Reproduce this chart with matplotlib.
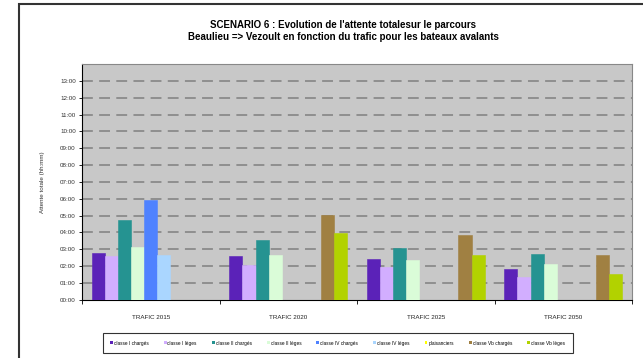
import numpy as np
import matplotlib
matplotlib.use("Agg")
import matplotlib.pyplot as plt
from matplotlib.patches import Rectangle

plt.rcParams['font.family'] = ['Liberation Sans', 'DejaVu Sans']

categories = ["TRAFIC 2015", "TRAFIC 2020", "TRAFIC 2025", "TRAFIC 2050"]
series_names = ["classe I chargés", "classe I lèges", "classe II chargés", "classe II lèges",
                "classe IV chargés", "classe IV lèges", "plaisanciers",
                "classe Vb chargés", "classe Vb lèges"]
colors = ["#5B22B8", "#D2AEFF", "#259391", "#DAFCD8", "#4F82FF", "#AAD6FF",
          "#FFFF00", "#A08042", "#B2D200"]

# attente totale (hh:mm), "" = pas de bateaux
classe_I_charges = ["2:47", "2:37", "2:26", "1:50"]
classe_I_leges = ["2:35", "2:04", "1:58", "1:20"]
classe_II_charges = ["4:45", "3:31", "3:04", "2:43"]
classe_II_leges = ["3:09", "2:41", "2:20", "2:07"]
classe_IV_charges = ["5:55", "", "", ""]
classe_IV_leges = ["2:39", "", "", ""]
plaisanciers = ["", "", "", ""]
classe_Vb_charges = ["", "5:02", "3:50", "2:39"]
classe_Vb_leges = ["", "3:59", "2:40", "1:31"]

series = [classe_I_charges, classe_I_leges, classe_II_charges, classe_II_leges,
          classe_IV_charges, classe_IV_leges, plaisanciers,
          classe_Vb_charges, classe_Vb_leges]


def to_hours(s):
    if not s:
        return 0.0
    h, m = s.split(":")
    return int(h) + int(m) / 60.0


fig = plt.figure(figsize=(6.43, 3.58), dpi=100)
ax = fig.add_axes([82 / 643, 1 - 299.7 / 358, 550 / 643, (299.7 - 64) / 358])
ax.set_facecolor("#C8C8C8")

x = np.arange(len(categories))
w = 1 / 10.5
for i, (name, vals, c) in enumerate(zip(series_names, series, colors)):
    h = np.array([to_hours(v) for v in vals])
    xs = x + (i - 4) * w
    keep = h > 0
    ax.bar(xs[keep], h[keep], width=w, color=c, edgecolor=c, linewidth=0.4, zorder=3)
    ax.bar([np.nan], [np.nan], width=w, color=c, label=name)

ax.set_ylim(0, 14)
ax.set_xlim(-0.5, 3.5)
ax.set_yticks(np.arange(0, 14))
ax.set_yticklabels(["%02d:00" % t for t in range(14)], fontsize=4.5, color="#333333")
for t in range(1, 15):
    ax.axhline(t, color="#8A8A8A", lw=1.3, ls=(0, (6, 3.5)), zorder=1)

ax.set_xticks(np.arange(-0.5, 4.0, 1.0))
ax.set_xticklabels([])
ax.tick_params(axis='x', length=3, width=0.6, direction='out')
ax.tick_params(axis='y', length=2.5, width=0.6, pad=2)
for i, c in enumerate(categories):
    ax.text(i, -1.05, c, ha='center', va='center', fontsize=4.5, color="#222222")

ax.spines['left'].set_color('black')
ax.spines['bottom'].set_color('black')
ax.spines['top'].set_color('#888888')
ax.spines['right'].set_color('#888888')
for s in ax.spines.values():
    s.set_linewidth(0.8)

ax.set_ylabel("Attente totale (hh:mm)", fontsize=4.5, color="#333333", labelpad=11)

fig.text(343 / 643, 1 - 31 / 358,
         "SCENARIO 6 : Evolution de l'attente totalesur le parcours\n"
         "Beaulieu => Vezoult en fonction du trafic pour les bateaux avalants",
         ha='center', va='center', fontsize=7, fontweight='bold', linespacing=1.35)

leg = fig.legend(loc='center', bbox_to_anchor=(337.5 / 643, 1 - 343 / 358), ncol=9,
                 fontsize=3.4, frameon=True, fancybox=False, handlelength=0.6,
                 handleheight=0.6, handletextpad=0.2, columnspacing=3.2,
                 borderpad=1.6, borderaxespad=0, edgecolor='black')
leg.get_frame().set_linewidth(0.8)

fig.patches.append(Rectangle((19 / 643, -0.1), 1.0, 1 - 4 / 358 + 0.1,
                             transform=fig.transFigure, fill=False,
                             edgecolor='#333333', linewidth=1.5))

fig.savefig("out.png", dpi=100)
